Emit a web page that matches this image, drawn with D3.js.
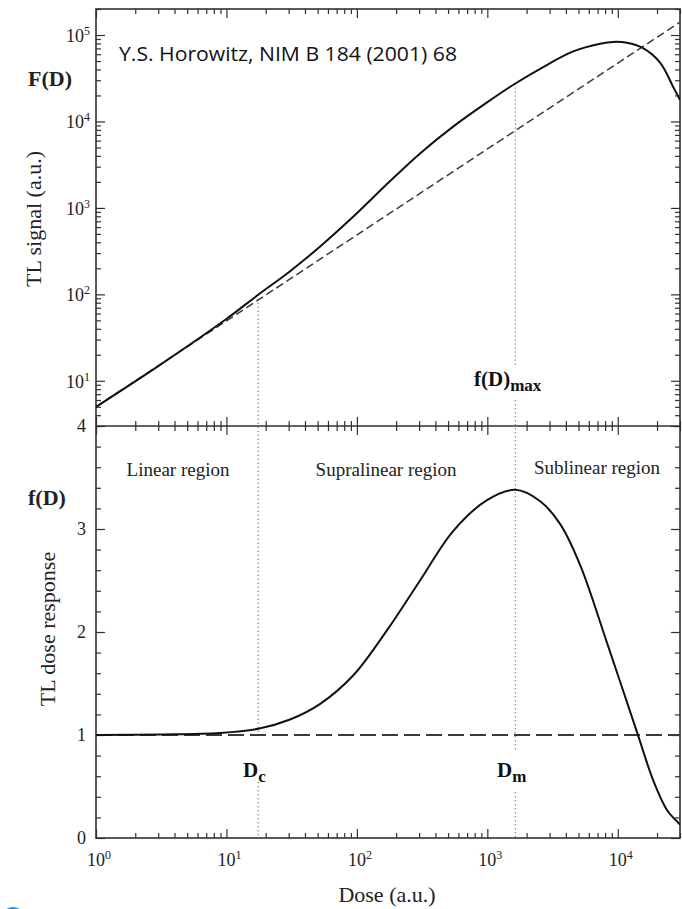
<!DOCTYPE html>
<html>
<head>
<meta charset="utf-8">
<script src="https://cdn.jsdelivr.net/npm/d3@7"></script>
<style>
  html, body { margin: 0; padding: 0; background: #fff; }
  svg { display: block; }
</style>
</head>
<body>
<script>
// ---- Dose axis, shared by both panels ----
const doseDomain = [1, 3e4];
const doseDecades = [1, 10, 100, 1000, 10000];

// ---- Upper panel: TL signal F(D) ----
const signalDomain = [3, 2e5];
const signalDecades = [10, 100, 1000, 10000, 100000];
const doseF   = [1, 3.1, 9.8, 17.5, 30.4, 52, 94, 171, 305, 547, 995, 1640, 2540, 4550, 7330, 9230, 11750, 15500, 21100, 26600, 30000];
const signalF = [5.0, 15.3, 50.8, 98.9, 183, 355, 794, 1900, 4270, 8710, 16600, 27500, 40700, 64600, 79400, 83200, 81300, 70800, 47900, 25100, 17800];
// linear extrapolation of the low-dose response
const doseLinear   = [1, 30000];
const signalLinear = [5.0, 141000];

// ---- Lower panel: normalised dose response f(D) ----
const responseDomain = [0, 4];
const responseTicks = [0, 1, 2, 3, 4];
const responseMinor = [0.2, 0.4, 0.6, 0.8, 1.2, 1.4, 1.6, 1.8, 2.2, 2.4, 2.6, 2.8, 3.2, 3.4, 3.6, 3.8];
const doseResp  = [1, 3.1, 8.9, 17.5, 30.7, 52, 94, 171, 305, 547, 995, 1640, 2540, 3610, 5150, 8300, 14100, 18700, 23900, 29000, 30000];
const responseF = [1.00, 1.005, 1.02, 1.06, 1.15, 1.30, 1.58, 2.02, 2.50, 2.98, 3.28, 3.38, 3.27, 3.05, 2.65, 1.89, 1.02, 0.56, 0.27, 0.15, 0.13];
const unityDose = [1, 30000];
const unityResp = [1, 1];

// ---- Characteristic doses ----
const doseCritical = 17.5;   // D_c
const doseMax = 1640;        // D_m
const signalAtCritical = 98.9;
const signalAtMax = 27500;

// ---- Layout ----
const W = 682, H = 909;
const L = 96, R = 680, T = 9, MID = 426, B = 838;
const serif = "'Liberation Serif', 'Times New Roman', serif";
const ink = "#2e3138";

const svg = d3.select("body").append("svg").attr("width", W).attr("height", H);

const x = d3.scaleLog().domain(doseDomain).range([L, R]);
const yTop = d3.scaleLog().domain(signalDomain).range([MID, T]);
const yBot = d3.scaleLinear().domain(responseDomain).range([B, MID]);

svg.append("defs").append("clipPath").attr("id", "plot")
  .append("rect").attr("x", L).attr("y", T).attr("width", R - L).attr("height", B - T);

// ---- Tick helpers ----
const doseMinor = x.ticks().filter(d => !doseDecades.includes(d));
const sigMinor = yTop.ticks().filter(d => !signalDecades.includes(d));

function ticks(axisFn, scale, values, size, transform) {
  const g = svg.append("g").attr("transform", transform)
    .call(axisFn(scale).tickValues(values).tickSize(size).tickFormat(""));
  g.select(".domain").remove();
  g.selectAll("line").attr("stroke", ink).attr("stroke-width", 1.2);
}

// dose ticks: top border (down), middle line (crossing), bottom axis (up)
[[doseMinor, 5], [doseDecades, 9]].forEach(([vals, s]) => {
  ticks(d3.axisBottom, x, vals, s, `translate(0,${T})`);
  ticks(d3.axisBottom, x, vals, s, `translate(0,${MID})`);
  ticks(d3.axisTop, x, vals, s, `translate(0,${MID})`);
  ticks(d3.axisTop, x, vals, s, `translate(0,${B})`);
});
// signal ticks, left and right, pointing inward
[[sigMinor, 5], [signalDecades, 9]].forEach(([vals, s]) => {
  ticks(d3.axisRight, yTop, vals, s, `translate(${L},0)`);
  ticks(d3.axisLeft, yTop, vals, s, `translate(${R},0)`);
});
// response ticks, left and right, pointing inward
[[responseMinor, 5], [responseTicks, 9]].forEach(([vals, s]) => {
  ticks(d3.axisRight, yBot, vals, s, `translate(${L},0)`);
  ticks(d3.axisLeft, yBot, vals, s, `translate(${R},0)`);
});

// ---- Frame ----
const frame = svg.append("g").attr("stroke", ink).attr("stroke-width", 1.6).attr("fill", "none");
frame.append("rect").attr("x", L).attr("y", T).attr("width", R - L).attr("height", B - T);
frame.append("line").attr("x1", L).attr("x2", R).attr("y1", MID).attr("y2", MID);

// ---- Tick labels ----
function powLabel(px, py, exp, anchor) {
  const t = svg.append("text").attr("x", px).attr("y", py)
    .attr("text-anchor", anchor).attr("font-family", serif).attr("font-size", 18).attr("fill", "#222");
  t.append("tspan").text("10");
  t.append("tspan").attr("dy", -7).attr("font-size", 12).text(String(exp));
}
doseDecades.forEach(d => powLabel(x(d) + 3, 866, Math.round(Math.log10(d)), "middle"));
signalDecades.forEach(d => powLabel(90, yTop(d) + 7, Math.round(Math.log10(d)), "end"));
responseTicks.forEach(v => {
  svg.append("text").attr("x", 86).attr("y", yBot(v) + 6).attr("text-anchor", "end")
    .attr("font-family", serif).attr("font-size", 18).attr("fill", "#222").text(v);
});

// ---- Dotted guide lines at D_c and D_m ----
function dotted(xv, y1, y2) {
  svg.append("line").attr("x1", x(xv)).attr("x2", x(xv)).attr("y1", y1).attr("y2", y2)
    .attr("stroke", "#6f866f").attr("stroke-width", 1.2).attr("stroke-dasharray", "1.3,2.7");
}
dotted(doseCritical, yTop(signalAtCritical), 738);
dotted(doseCritical, 782, B);
dotted(doseMax, yTop(signalAtMax), 366);
dotted(doseMax, 400, 750);
dotted(doseMax, 792, B);

// ---- Curves ----
const plot = svg.append("g").attr("clip-path", "url(#plot)");

const lineTop = d3.line().x(d => x(d[0])).y(d => yTop(d[1])).curve(d3.curveCatmullRom.alpha(0.5));
const lineBot = d3.line().x(d => x(d[0])).y(d => yBot(d[1])).curve(d3.curveCatmullRom.alpha(0.5));

plot.append("path").datum(d3.zip(doseLinear, signalLinear)).attr("d", d3.line().x(d => x(d[0])).y(d => yTop(d[1])))
  .attr("fill", "none").attr("stroke", "#3a3a3a").attr("stroke-width", 1.5).attr("stroke-dasharray", "8,4");
plot.append("path").datum(d3.zip(doseF, signalF)).attr("d", lineTop)
  .attr("fill", "none").attr("stroke", "#111").attr("stroke-width", 2);

plot.append("path").datum(d3.zip(unityDose, unityResp)).attr("d", d3.line().x(d => x(d[0])).y(d => yBot(d[1])))
  .attr("fill", "none").attr("stroke", "#3a3a3a").attr("stroke-width", 1.8).attr("stroke-dasharray", "16,6");
plot.append("path").datum(d3.zip(doseResp, responseF)).attr("d", lineBot)
  .attr("fill", "none").attr("stroke", "#111").attr("stroke-width", 2);

// ---- Text ----
function txt(px, py, s, opts = {}) {
  return svg.append("text").attr("x", px).attr("y", py)
    .attr("font-family", opts.family || serif).attr("font-size", opts.size || 19)
    .attr("font-weight", opts.weight || "normal").attr("fill", opts.fill || "#222")
    .attr("text-anchor", opts.anchor || "start").text(s);
}

// citation
txt(119, 61, "Y.S. Horowitz, NIM B 184 (2001) 68", { family: "'Open Sans', 'Liberation Sans', sans-serif", size: 20, fill: "#111" })
  .attr("textLength", 338).attr("lengthAdjust", "spacingAndGlyphs");

// panel symbols
txt(28, 86, "F(D)", { weight: "bold", size: 22 });
txt(28, 505, "f(D)", { weight: "bold", size: 22 });

// axis titles
svg.append("text").attr("transform", "translate(41,219) rotate(-90)")
  .attr("text-anchor", "middle").attr("font-family", serif).attr("font-size", 22).attr("fill", "#222")
  .text("TL signal (a.u.)");
svg.append("text").attr("transform", "translate(55,629) rotate(-90)")
  .attr("text-anchor", "middle").attr("font-family", serif).attr("font-size", 22).attr("fill", "#222")
  .text("TL dose response");
txt(387, 902, "Dose (a.u.)", { anchor: "middle", size: 22 });

// region names
txt(178, 476, "Linear region", { anchor: "middle", size: 19 });
txt(386, 476, "Supralinear region", { anchor: "middle", size: 19 });
txt(597, 474, "Sublinear region", { anchor: "middle", size: 19 });

// subscripted bold markers
function subLabel(px, py, main, sub) {
  const t = svg.append("text").attr("x", px).attr("y", py).attr("font-family", serif)
    .attr("font-weight", "bold").attr("font-size", 21).attr("fill", "#111");
  t.append("tspan").text(main);
  t.append("tspan").attr("dy", 5).attr("font-size", 17).text(sub);
}
subLabel(474, 386, "f(D)", "max");
subLabel(243, 777, "D", "c");
subLabel(497, 777, "D", "m");

// small badge at the lower-left edge
svg.append("circle").attr("cx", 13).attr("cy", 919).attr("r", 12).attr("fill", "#1aa0e6");
</script>
</body>
</html>
